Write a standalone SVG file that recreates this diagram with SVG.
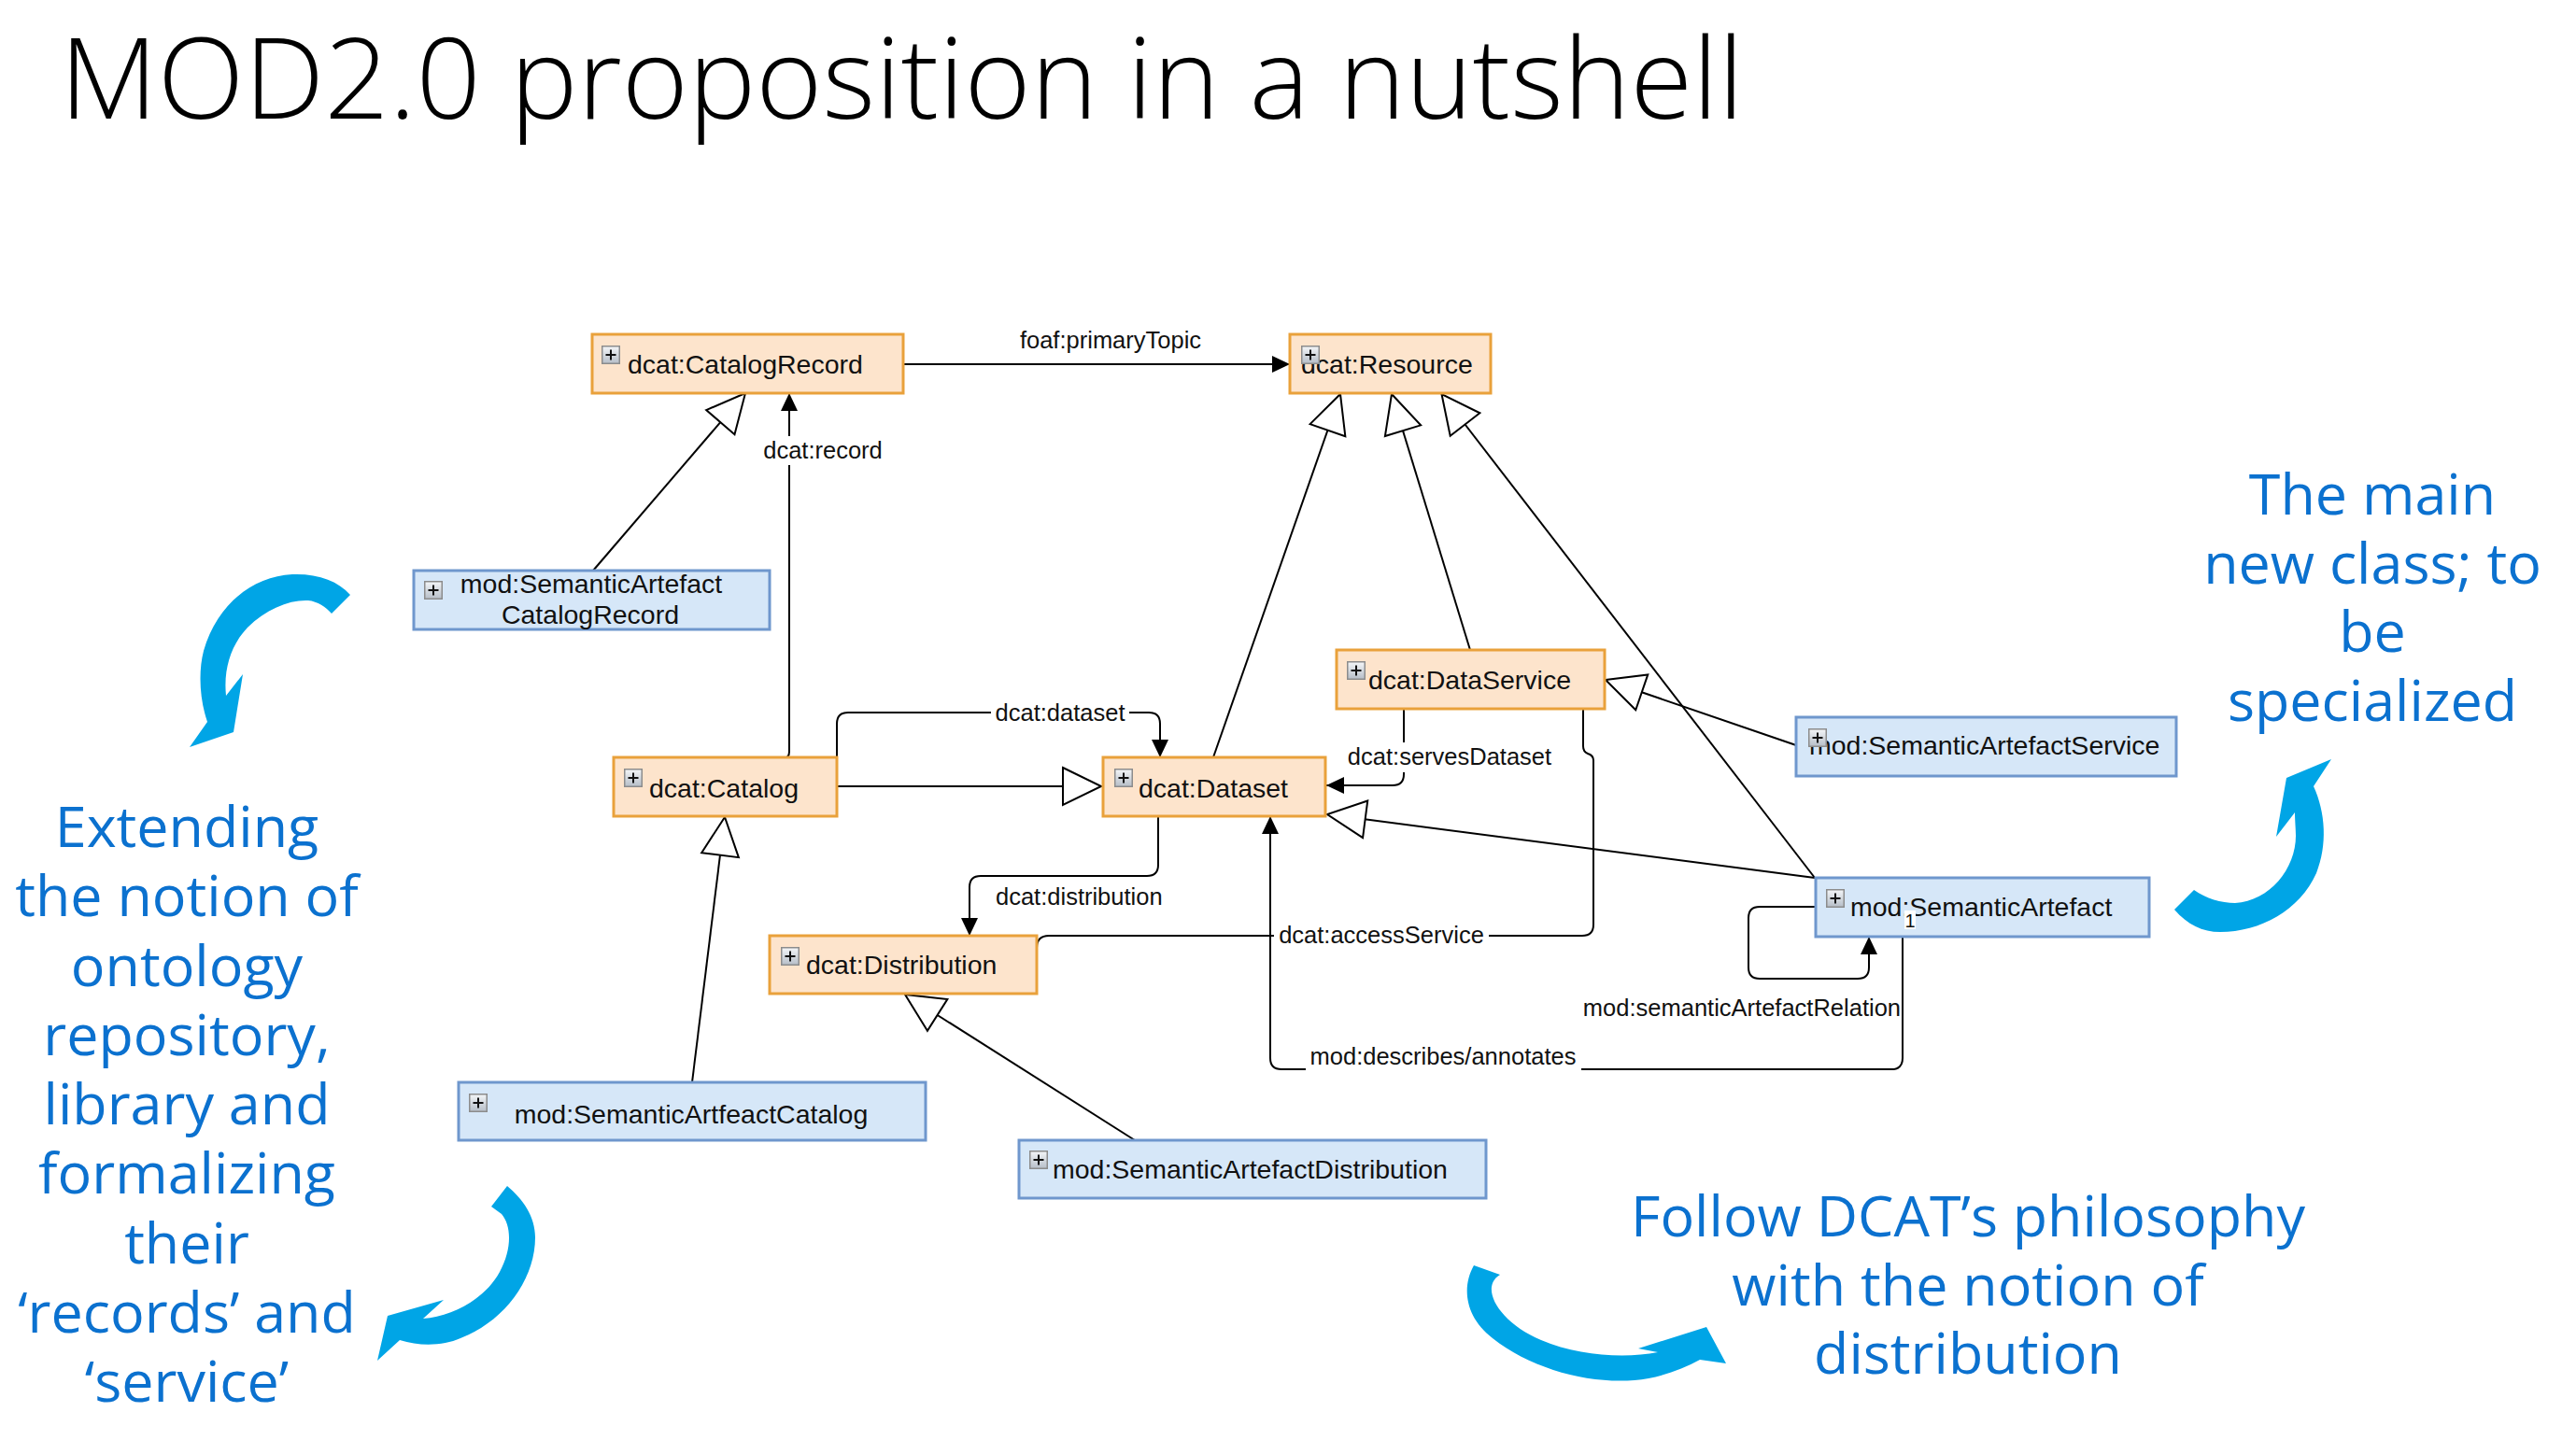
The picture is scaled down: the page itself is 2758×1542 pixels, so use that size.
<svg xmlns="http://www.w3.org/2000/svg" width="2758" height="1542" viewBox="0 0 2758 1542">
<style>
.peach{fill:#fde4cc;stroke:#e9a13b;stroke-width:3}
.blue{fill:#d6e7f8;stroke:#6f97cd;stroke-width:3}
.nt{font-family:"Liberation Sans",Arial,sans-serif;font-size:28.5px;fill:#111}
.lbl{font-family:"Liberation Sans",Arial,sans-serif;font-size:25.5px;fill:#111}
.conn{fill:none;stroke:#000;stroke-width:2}
.bg{fill:#fff}
.note{font-family:"Open Sans","DejaVu Sans",sans-serif;font-size:61px;fill:#0b71cf;text-anchor:middle}
.curl{fill:#00a5e6}
</style>
<defs>
<linearGradient id="pg" x1="0" y1="0" x2="0" y2="1"><stop offset="0" stop-color="#f4f6f8"/><stop offset="1" stop-color="#b6bec8"/></linearGradient>
<g id="plus"><rect x="0.75" y="0.75" width="18.5" height="18.5" fill="url(#pg)" stroke="#8c8c8c" stroke-width="1.5"/><path d="M10,4.5V15.5M4.5,10H15.5" stroke="#111" stroke-width="2"/></g>
<marker id="filled" markerUnits="userSpaceOnUse" markerWidth="20" markerHeight="20" refX="19" refY="9" orient="auto" overflow="visible"><path d="M0,0L19,9L0,18Z" fill="#000"/></marker>
<marker id="hollow" markerUnits="userSpaceOnUse" markerWidth="44" markerHeight="42" refX="42" refY="20" orient="auto" overflow="visible"><path d="M1,0L42,20L1,40Z" fill="#fff" stroke="#000" stroke-width="2"/></marker>
</defs>
<rect width="2758" height="1542" fill="#fff"/>
<text x="64" y="127" font-family="'Open Sans','DejaVu Sans',sans-serif" font-size="120" font-weight="300" fill="#000" textLength="1803" lengthAdjust="spacingAndGlyphs">MOD2.0 proposition in a nutshell</text>

<g id="connectors">
<path class="conn" d="M967,390H1381" marker-end="url(#filled)"/>
<path class="conn" d="M838,812Q845,812 845,805V421" marker-end="url(#filled)"/>
<path class="conn" d="M635,611L798,421" marker-end="url(#hollow)"/>
<path class="conn" d="M1299,811L1435,422" marker-end="url(#hollow)"/>
<path class="conn" d="M1574,696L1490,422" marker-end="url(#hollow)"/>
<path class="conn" d="M1943,940L1543.5,422" marker-end="url(#hollow)"/>
<path class="conn" d="M1943,940L1421,872" marker-end="url(#hollow)"/>
<path class="conn" d="M1923,798L1719,728" marker-end="url(#hollow)"/>
<path class="conn" d="M896,842H1179" marker-end="url(#hollow)"/>
<path class="conn" d="M741,1159L776,875" marker-end="url(#hollow)"/>
<path class="conn" d="M1215,1221L969,1065" marker-end="url(#hollow)"/>
<path class="conn" d="M896,811V775Q896,763 908,763H1230Q1242,763 1242,775V811" marker-end="url(#filled)"/>
<path class="conn" d="M1240,874V926Q1240,938 1228,938H1050Q1038,938 1038,950V1002" marker-end="url(#filled)"/>
<path class="conn" d="M1503,759V829Q1503,841 1491,841H1420" marker-end="url(#filled)"/>
<path class="conn" d="M1110,1032V1015Q1110,1002 1123,1002H1694Q1706,1002 1706,990V814Q1706,809 1700,807Q1695,805 1695,799V759"/>
<path class="conn" d="M2037,1003V1133Q2037,1145 2025,1145H1372Q1360,1145 1360,1133V874" marker-end="url(#filled)"/>
<path class="conn" d="M1944,971H1884Q1872,971 1872,983V1036Q1872,1048 1884,1048H1989Q2001,1048 2001,1036V1003" marker-end="url(#filled)"/>
<text class="lbl" x="1189" y="373" text-anchor="middle">foaf:primaryTopic</text>
<rect class="bg" x="814" y="467" width="134" height="31"/>
<text class="lbl" x="881" y="491" text-anchor="middle">dcat:record</text>
<rect class="bg" x="1061" y="752" width="148" height="25"/>
<text class="lbl" x="1135" y="772" text-anchor="middle">dcat:dataset</text>
<text class="lbl" x="1066" y="969">dcat:distribution</text>
<rect class="bg" x="1438" y="795" width="229" height="32"/>
<text class="lbl" x="1552" y="819" text-anchor="middle">dcat:servesDataset</text>
<rect class="bg" x="1364" y="988" width="230" height="27"/>
<text class="lbl" x="1479" y="1010" text-anchor="middle">dcat:accessService</text>
<rect class="bg" x="1398" y="1120" width="295" height="28"/>
<text class="lbl" x="1545" y="1140" text-anchor="middle">mod:describes/annotates</text>
<text class="lbl" x="2035" y="1088" text-anchor="end">mod:semanticArtefactRelation</text>
</g>

<g id="node-catalogrecord"><rect class="peach" x="634" y="358" width="333" height="63"/><text class="nt" x="672" y="400">dcat:CatalogRecord</text><use href="#plus" x="644" y="370"/></g>
<g id="node-resource"><rect class="peach" x="1381" y="358" width="215" height="63"/><text class="nt" x="1393" y="400">dcat:Resource</text><use href="#plus" x="1393" y="370"/></g>
<g id="node-sa-catalogrecord"><rect class="blue" x="443" y="611" width="381" height="63"/><text class="nt" x="633" y="635" text-anchor="middle">mod:SemanticArtefact</text><text class="nt" x="632" y="668" text-anchor="middle">CatalogRecord</text><use href="#plus" x="454" y="622"/></g>
<g id="node-catalog"><rect class="peach" x="657" y="811" width="239" height="63"/><text class="nt" x="695" y="854">dcat:Catalog</text><use href="#plus" x="668" y="823"/></g>
<g id="node-dataset"><rect class="peach" x="1181" y="811" width="238" height="63"/><text class="nt" x="1219" y="854">dcat:Dataset</text><use href="#plus" x="1193" y="823"/></g>
<g id="node-dataservice"><rect class="peach" x="1431" y="696" width="287" height="63"/><text class="nt" x="1465" y="738">dcat:DataService</text><use href="#plus" x="1442" y="708"/></g>
<g id="node-sa-service"><rect class="blue" x="1923" y="768" width="407" height="63"/><text class="nt" x="1937" y="808">mod:SemanticArtefactService</text><use href="#plus" x="1936" y="780"/></g>
<g id="node-semanticartefact"><rect class="blue" x="1944" y="940" width="357" height="63"/><text class="nt" x="1981" y="981">mod:SemanticArtefact</text><use href="#plus" x="1955" y="952"/></g>
<g id="node-distribution"><rect class="peach" x="824" y="1002" width="286" height="62"/><text class="nt" x="863" y="1043">dcat:Distribution</text><use href="#plus" x="836" y="1014"/></g>
<g id="node-sa-catalog"><rect class="blue" x="491" y="1159" width="500" height="62"/><text class="nt" x="740" y="1203" text-anchor="middle">mod:SemanticArtfeactCatalog</text><use href="#plus" x="502" y="1171"/></g>
<g id="node-sa-distribution"><rect class="blue" x="1091" y="1221" width="500" height="62"/><text class="nt" x="1127" y="1262">mod:SemanticArtefactDistribution</text><use href="#plus" x="1102" y="1232"/></g>

<g id="multiplicity"><rect class="bg" x="2039" y="975" width="12" height="20"/><text x="2045" y="993" text-anchor="middle" font-family="'Liberation Sans',Arial,sans-serif" font-size="20" fill="#111">1</text></g>

<g id="notes">
<path class="curl" d="M375,637C362,622 340,614 313,615C270,617 232,648 218,697C212,720 214,750 222,773L203,800L250,784L260,722L242,745C239,715 248,690 265,672C285,652 310,642 330,643C340,644 349,650 355,657Z"/>
<path class="curl" d="M543,1270C560,1284 573,1303 573,1325C573,1370 540,1415 493,1433C475,1441 450,1442 428,1435L404,1457L415,1409L475,1392L453,1412C485,1410 520,1390 535,1362C548,1338 548,1313 537,1300L526,1292Z"/>
<path class="curl" d="M2496,813L2477,842C2490,870 2492,905 2480,935C2462,975 2420,998 2377,998C2358,998 2342,990 2328,974L2349,953C2362,962 2378,967 2393,967C2430,965 2458,930 2458,895C2458,888 2457,878 2457,870L2437,896L2448,833Z"/>
<path class="curl" d="M1578,1355C1565,1378 1568,1410 1598,1433C1640,1466 1700,1482 1750,1478C1775,1476 1800,1467 1820,1456L1848,1460L1827,1421L1754,1444L1775,1448C1740,1455 1690,1452 1650,1435C1615,1420 1595,1395 1597,1378C1598,1372 1601,1368 1606,1365Z"/>
<text class="note"><tspan x="200" y="907">Extending</tspan><tspan x="200" y="981">the notion of</tspan><tspan x="200" y="1056">ontology</tspan><tspan x="200" y="1130">repository,</tspan><tspan x="200" y="1204">library and</tspan><tspan x="200" y="1278">formalizing</tspan><tspan x="200" y="1353">their</tspan><tspan x="200" y="1427">‘records’ and</tspan><tspan x="200" y="1501">‘service’</tspan></text>
<text class="note"><tspan x="2540" y="551">The main</tspan><tspan x="2540" y="625">new class; to</tspan><tspan x="2540" y="698">be</tspan><tspan x="2540" y="772">specialized</tspan></text>
<text class="note"><tspan x="2107" y="1324">Follow DCAT’s philosophy</tspan><tspan x="2107" y="1398">with the notion of</tspan><tspan x="2107" y="1471">distribution</tspan></text>
</g>
</svg>
